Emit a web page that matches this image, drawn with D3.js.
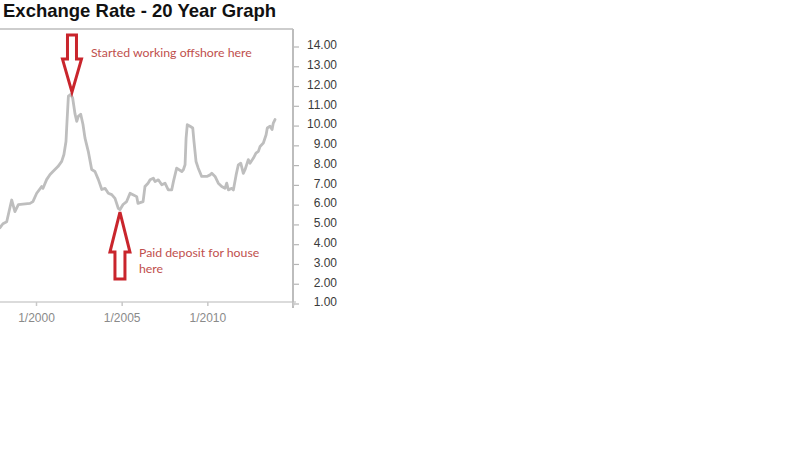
<!DOCTYPE html>
<html>
<head>
<meta charset="utf-8">
<script src="https://cdn.jsdelivr.net/npm/d3@7/dist/d3.min.js"></script>
<style>
  html, body { margin: 0; padding: 0; background: #fff; }
  svg { display: block; }
</style>
</head>
<body>
<svg id="chart" width="800" height="450"></svg>
<script>
// ---- data (decimal year, exchange rate) ----
const years = [1997.90, 1998.07, 1998.29, 1998.58, 1998.77, 1998.97, 1999.65, 1999.82, 2000.04, 2000.33,
  2000.41, 2000.62, 2000.82, 2000.99, 2001.28, 2001.50, 2001.63, 2001.75, 2001.79, 2001.89,
  2002.03, 2002.14, 2002.28, 2002.38, 2002.47, 2002.61, 2002.74, 2002.86, 2003.05, 2003.25,
  2003.44, 2003.64, 2003.84, 2004.03, 2004.22, 2004.42, 2004.61, 2004.80, 2004.90, 2005.08,
  2005.29, 2005.49, 2005.66, 2005.88, 2005.95, 2006.25, 2006.36, 2006.54, 2006.66, 2006.85,
  2006.95, 2007.14, 2007.34, 2007.53, 2007.72, 2007.92, 2008.02, 2008.21, 2008.51, 2008.60,
  2008.70, 2008.76, 2008.83, 2008.99, 2009.15, 2009.22, 2009.34, 2009.47, 2009.67, 2009.97,
  2010.16, 2010.26, 2010.45, 2010.64, 2010.84, 2011.03, 2011.13, 2011.23, 2011.42, 2011.52,
  2011.68, 2011.81, 2011.95, 2012.10, 2012.20, 2012.39, 2012.49, 2012.69, 2012.84, 2012.98,
  2013.08, 2013.27, 2013.43, 2013.50, 2013.66, 2013.78, 2013.85, 2013.95];
const rates = [4.76, 4.96, 5.06, 6.16, 5.57, 5.93, 5.99, 6.08, 6.50, 6.84,
  6.75, 7.19, 7.45, 7.60, 7.85, 8.11, 8.46, 9.12, 9.80, 11.41,
  11.50, 11.32, 10.50, 10.14, 10.39, 10.50, 9.99, 9.29, 8.62, 7.70,
  7.60, 7.19, 6.69, 6.75, 6.50, 6.43, 6.24, 5.74, 5.67, 5.93,
  6.08, 6.50, 6.43, 6.33, 5.99, 6.08, 6.84, 7.01, 7.18, 7.26,
  7.09, 7.18, 6.93, 7.01, 6.67, 6.67, 7.09, 7.77, 7.60, 7.69,
  7.94, 9.29, 9.97, 9.89, 9.80, 9.12, 8.11, 7.77, 7.35, 7.35,
  7.43, 7.51, 7.35, 7.01, 6.84, 6.75, 7.01, 6.67, 6.75, 6.67,
  7.43, 7.94, 8.02, 7.51, 7.69, 8.20, 8.02, 8.28, 8.53, 8.62,
  8.87, 9.04, 9.46, 9.80, 9.89, 9.72, 10.05, 10.23];

const xTickYears = [2000, 2005, 2010, 2015];
const xTickLabels = ["1/2000", "1/2005", "1/2010", ""];
const yTicks = [1, 2, 3, 4, 5, 6, 7, 8, 9, 10, 11, 12, 13, 14];

const title = "Exchange Rate - 20 Year Graph";
const annoLines = [["Started working offshore here"], ["Paid deposit for house", "here"]];
const annoYears = [2002.10, 2004.90];
const annoValues = [11.62, 5.55];
const annoDirs = ["down", "up"];

// ---- layout ----
const svg = d3.select("#chart");
const plotLeft = 0, plotRight = 293, plotTop = 29, plotBottom = 302;

const x = d3.scaleLinear().domain([2000, 2015]).range([36, 293]);
const y = d3.scaleLinear().domain([1, 14]).range([302, 45]);

// title
svg.append("text")
  .attr("x", 3).attr("y", 17)
  .attr("font-family", "Liberation Sans, Arial, sans-serif")
  .attr("font-weight", "bold")
  .attr("font-size", 18.5)
  .attr("fill", "#111")
  .text(title);

// top border
svg.append("line")
  .attr("x1", plotLeft).attr("x2", plotRight)
  .attr("y1", plotTop).attr("y2", plotTop)
  .attr("stroke", "#bdbdbd").attr("stroke-width", 1.5);

// bottom axis baseline
svg.append("line")
  .attr("x1", plotLeft).attr("x2", plotRight + 3)
  .attr("y1", plotBottom).attr("y2", plotBottom)
  .attr("stroke", "#cfcfcf").attr("stroke-width", 1.5);

// right axis line
svg.append("line")
  .attr("x1", plotRight).attr("x2", plotRight)
  .attr("y1", plotTop).attr("y2", plotBottom + 6)
  .attr("stroke", "#bdbdbd").attr("stroke-width", 2);

// bottom axis
const xAxis = d3.axisBottom(x)
  .tickValues(xTickYears)
  .tickFormat((d, i) => xTickLabels[i])
  .tickSize(4)
  .tickPadding(7);
const gx = svg.append("g")
  .attr("transform", `translate(0,${plotBottom})`)
  .call(xAxis);
gx.select(".domain").remove();
gx.selectAll(".tick line").attr("stroke", "#c8c8c8").attr("stroke-width", 1.5);
gx.selectAll(".tick text")
  .attr("font-family", "Liberation Sans, Arial, sans-serif")
  .attr("font-size", 12)
  .attr("fill", "#8a8a8a");

// right axis
const yAxis = d3.axisRight(y)
  .tickValues(yTicks)
  .tickFormat(d3.format(".2f"))
  .tickSize(5);
const gy = svg.append("g")
  .attr("transform", `translate(${plotRight},0)`)
  .call(yAxis);
gy.select(".domain").remove();
gy.selectAll(".tick line").attr("stroke", "#b5b5b5").attr("stroke-width", 1.2)
  .attr("transform", "translate(1,1.5)");
gy.selectAll(".tick text")
  .attr("x", 44)
  .attr("text-anchor", "end")
  .attr("font-family", "Liberation Sans, Arial, sans-serif")
  .attr("font-size", 12)
  .attr("fill", "#3a3a3a");

// clip
svg.append("clipPath").attr("id", "plotclip")
  .append("rect")
  .attr("x", plotLeft).attr("y", plotTop)
  .attr("width", plotRight - plotLeft).attr("height", plotBottom - plotTop);

// data line
const pts = years.map((yr, i) => [yr, rates[i]]);
const line = d3.line().x(d => x(d[0])).y(d => y(d[1])).curve(d3.curveLinear);
svg.append("path")
  .attr("clip-path", "url(#plotclip)")
  .attr("d", line(pts))
  .attr("fill", "none")
  .attr("stroke", "#bebebe")
  .attr("stroke-width", 2.8)
  .attr("stroke-linejoin", "round")
  .attr("stroke-linecap", "round");

// annotations
const arrowRed = "#c9252c";
const textRed = "#c0504d";
annoYears.forEach((yr, i) => {
  const tx = x(yr), ty = y(annoValues[i]);
  const g = svg.append("g").attr("transform", `translate(${tx},${ty})`);
  let p, textDx, textDy;
  if (annoDirs[i] === "down") {
    const hw = 9.5, hh = 33, sw = 4.5, len = 57;
    p = `M0,0 L${-hw},${-hh} L${-sw},${-hh} L${-sw},${-len} L${sw},${-len} L${sw},${-hh} L${hw},${-hh} Z`;
    textDx = 19; textDy = -35;
  } else {
    const hw = 10, hh = 40, sw = 5, len = 67;
    p = `M0,0 L${-hw},${hh} L${-sw},${hh} L${-sw},${len} L${sw},${len} L${sw},${hh} L${hw},${hh} Z`;
    textDx = 19; textDy = 45;
  }
  g.append("path")
    .attr("d", p)
    .attr("fill", "#fff")
    .attr("stroke", arrowRed)
    .attr("stroke-width", 3)
    .attr("stroke-linejoin", "miter");
  const t = g.append("text")
    .attr("x", textDx).attr("y", textDy)
    .attr("font-family", "Lato, 'Open Sans', sans-serif")
    .attr("font-size", 12.3)
    .attr("fill", textRed);
  annoLines[i].forEach((ln, j) => {
    t.append("tspan").attr("x", textDx).attr("dy", j === 0 ? 0 : 16).text(ln);
  });
});
</script>
</body>
</html>
